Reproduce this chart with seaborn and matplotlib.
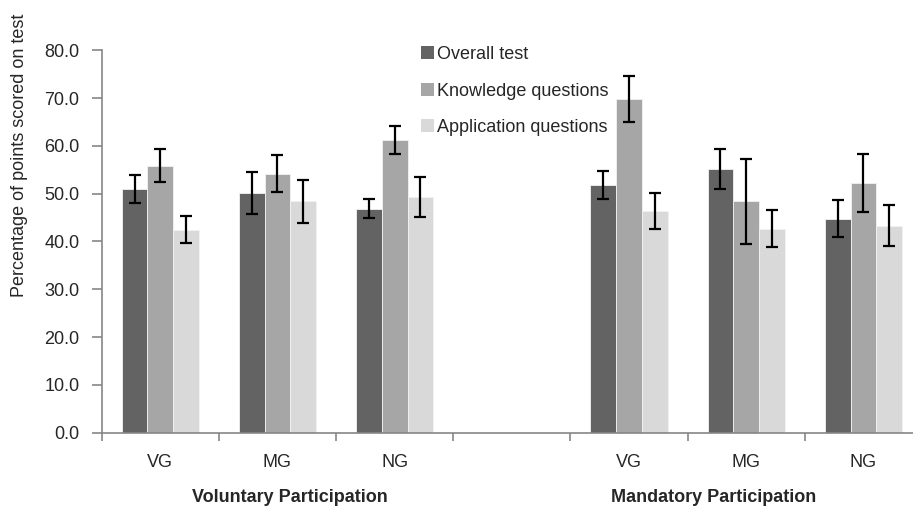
import numpy as np
import pandas as pd
import seaborn as sns
import matplotlib.pyplot as plt

# =====================================================
# DATA
# =====================================================
slots = ["V-VG", "V-MG", "V-NG", "gap", "M-VG", "M-MG", "M-NG"]
slot_labels = ["VG", "MG", "NG", "", "VG", "MG", "NG"]
data_slots = ["V-VG", "V-MG", "V-NG", "M-VG", "M-MG", "M-NG"]

series = ["Overall test", "Knowledge questions", "Application questions"]

overall = [51.0, 50.1, 46.9, 51.8, 55.2, 44.8]
knowledge = [55.8, 54.2, 61.2, 69.8, 48.4, 52.3]
application = [42.5, 48.4, 49.3, 46.4, 42.7, 43.3]

overall_err = [2.85, 4.45, 2.0, 2.85, 4.2, 3.9]
knowledge_err = [3.45, 3.85, 2.9, 4.85, 8.85, 6.05]
application_err = [2.8, 4.55, 4.2, 3.7, 3.8, 4.25]

colors = ["#636363", "#a6a6a6", "#d9d9d9"]

rows = []
for name, vals, errs in zip(series,
                            [overall, knowledge, application],
                            [overall_err, knowledge_err, application_err]):
    for s, v, e in zip(data_slots, vals, errs):
        rows.append({"slot": s, "series": name, "value": v, "err": e})
df = pd.DataFrame(rows)

# =====================================================
# PLOT
# =====================================================
sns.set_style("white")
plt.rcParams["font.family"] = ["Liberation Sans", "DejaVu Sans"]

fig = plt.figure(figsize=(9.13, 5.07), dpi=100)
ax = fig.add_axes([101.7 / 913, (507 - 432.7) / 507,
                   (922 - 101.7) / 913, (432.7 - 50.3) / 507])

sns.barplot(data=df, x="slot", y="value", hue="series", order=slots,
            hue_order=series, palette=colors, width=0.66, errorbar=None,
            edgecolor="#f2f2f2", linewidth=0.6, saturation=1, ax=ax)

# error bars from the data, placed on the bars seaborn drew
for cont, name in zip(ax.containers, series):
    sub = df[df["series"] == name].set_index("slot")
    for bar in cont:
        if np.isnan(bar.get_height()):
            continue
        xc = bar.get_x() + bar.get_width() / 2
        slot = slots[int(round(xc))]
        ax.errorbar(xc, sub.loc[slot, "value"], yerr=sub.loc[slot, "err"],
                    fmt="none", ecolor="black", elinewidth=1.6,
                    capsize=4.3, capthick=1.6, zorder=5)

ax.set_xlim(-0.5, len(slots) - 0.5)
ax.set_ylim(0, 80)
ax.set_yticks(np.arange(0, 81, 10))
ax.set_yticklabels([f"{t:.1f}" for t in np.arange(0, 81, 10)], fontsize=13)
ax.set_xticks(range(len(slots)))
ax.set_xticklabels(slot_labels, fontsize=13)
ax.set_xticks(np.arange(-0.5, len(slots), 1), minor=True)
ax.tick_params(axis="x", which="major", bottom=False, length=0, pad=15)
ax.tick_params(axis="x", which="minor", bottom=True, length=6,
               color="#868686", width=1.2)
ax.tick_params(axis="y", left=True, length=7, color="#868686", width=1.2,
               pad=9)
ax.set_xlabel("")
ax.set_ylabel("")

for side in ["top", "right"]:
    ax.spines[side].set_visible(False)
for side in ["left", "bottom"]:
    ax.spines[side].set_color("#868686")
    ax.spines[side].set_linewidth(1.2)

fig.text(20 / 913, 1 - 155.5 / 507, "Percentage of points scored on test",
         rotation=90, ha="center", va="center", fontsize=13)

fig.text(290 / 913, 1 - 497 / 507, "Voluntary Participation",
         ha="center", va="center", fontsize=13, fontweight="bold")
fig.text(713.5 / 913, 1 - 497 / 507, "Mandatory Participation",
         ha="center", va="center", fontsize=13, fontweight="bold")

leg = ax.legend(loc="upper left", bbox_to_anchor=(412 / 913, 1 - 37 / 507),
                bbox_transform=fig.transFigure, frameon=False, fontsize=13,
                handlelength=0.7, handleheight=0.7, handletextpad=0.2,
                labelspacing=1.08, borderpad=0)
for h in leg.legend_handles:
    h.set_edgecolor("none")

fig.savefig("out.png", dpi=100)
